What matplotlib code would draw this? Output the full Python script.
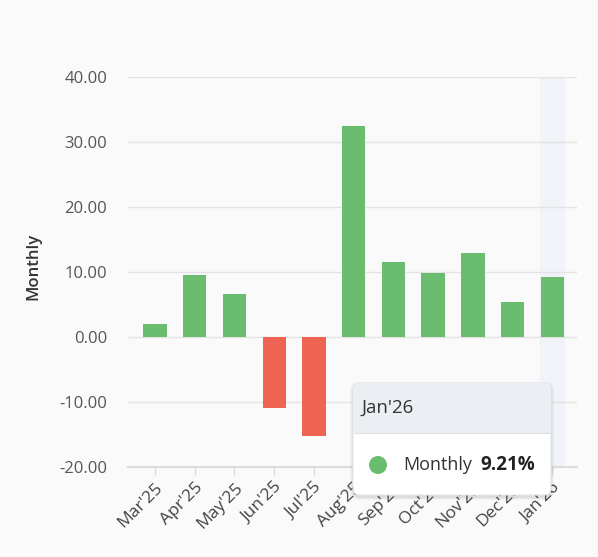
import matplotlib.pyplot as plt
from matplotlib.patches import FancyBboxPatch, Rectangle, Circle

# данные
months = ["Mar'25", "Apr'25", "May'25", "Jun'25", "Jul'25", "Aug'25",
          "Sep'25", "Oct'25", "Nov'25", "Dec'25", "Jan'26"]
monthly = [1.96, 9.52, 6.54, -10.95, -15.3, 32.5, 11.57, 9.77, 12.9, 5.35, 9.21]
y_ticks = [-20, -10, 0, 10, 20, 30, 40]
hover_idx = 10

plt.rcParams['font.family'] = ['Open Sans', 'DejaVu Sans']

W, H = 598, 557
bg = '#fafafa'
green = '#6abd6e'
red = '#ee6352'

fig = plt.figure(figsize=(W / 100, H / 100), dpi=100, facecolor=bg)
ax = fig.add_axes([128 / W, (H - 467) / H, (577 - 128) / W, (467 - 77) / H])
ax.set_facecolor(bg)

x = list(range(len(months)))
colors = [green if v >= 0 else red for v in monthly]

# подсветка выбранного месяца
ax.axvspan(hover_idx - 0.3, hover_idx + 0.3, color='#f0f3f7', zorder=0)

ax.bar(x, monthly, width=0.59, color=colors, zorder=3)

ax.set_xlim(-0.68, len(months) - 1 + 0.62)
ax.set_ylim(-20, 40)
ax.set_yticks(y_ticks)
ax.set_yticklabels([f"{v:.2f}" for v in y_ticks])
ax.grid(axis='y', color='#e3e3e3', linewidth=1, zorder=1)
ax.set_axisbelow(True)

for s in ['top', 'right', 'left']:
    ax.spines[s].set_visible(False)
ax.spines['bottom'].set_color('#dcdcdc')
ax.spines['bottom'].set_linewidth(1.5)
ax.spines['bottom'].set_zorder(2)

ax.tick_params(axis='y', length=0, pad=15, labelsize=12, labelcolor='#555555')
ax.tick_params(axis='x', length=6, width=1, color='#dcdcdc', pad=3,
               labelsize=12.5, labelcolor='#444444')
ax.set_xticks(x)
ax.set_xticklabels(months, rotation=45, ha='right', rotation_mode='anchor')

fig.text(33 / W, (H - 266) / H, 'Monthly', rotation=90, ha='center', va='center',
         fontsize=12, fontweight='semibold', color='#333333')

# всплывающая подсказка
tip = fig.add_axes([0, 0, 1, 1], zorder=10)
tip.set_xlim(0, W)
tip.set_ylim(H, 0)
tip.axis('off')
tip.patch.set_alpha(0)

x0, x1, y0, y1, yh = 353, 551, 383, 495, 433
for i, a in enumerate([0.03, 0.04, 0.05]):
    d = 4 - i
    tip.add_patch(FancyBboxPatch((x0 - d + 1, y0 - d + 3), x1 - x0 + 2 * d - 2, y1 - y0 + 2 * d - 2,
                                 boxstyle='round,pad=0,rounding_size=8',
                                 facecolor='black', edgecolor='none', alpha=a))
tip.add_patch(FancyBboxPatch((x0, y0), x1 - x0, y1 - y0,
                             boxstyle='round,pad=0,rounding_size=7',
                             facecolor='white', edgecolor='#e4e7eb', linewidth=0.8))
tip.add_patch(FancyBboxPatch((x0 + 0.5, y0 + 0.5), x1 - x0 - 1, yh - y0,
                             boxstyle='round,pad=0,rounding_size=7',
                             facecolor='#ebeef2', edgecolor='none'))
tip.add_patch(Rectangle((x0 + 0.5, yh - 10), x1 - x0 - 1, 10, facecolor='#ebeef2', edgecolor='none'))
tip.plot([x0 + 0.5, x1 - 0.5], [yh, yh], color='#dde1e6', linewidth=0.8)

tip.text(362, 408, months[hover_idx], ha='left', va='center', fontsize=13.5, color='#333333')
tip.add_patch(Circle((378, 465), 9, facecolor=green, edgecolor='none'))
tip.text(403, 465, 'Monthly', ha='left', va='center', fontsize=13, color='#333333')
tip.text(480, 465, f"{monthly[hover_idx]:.2f}%", ha='left', va='center', fontsize=13.5,
         fontweight='bold', color='#222222')

fig.savefig('out.png', dpi=100, facecolor=bg)
